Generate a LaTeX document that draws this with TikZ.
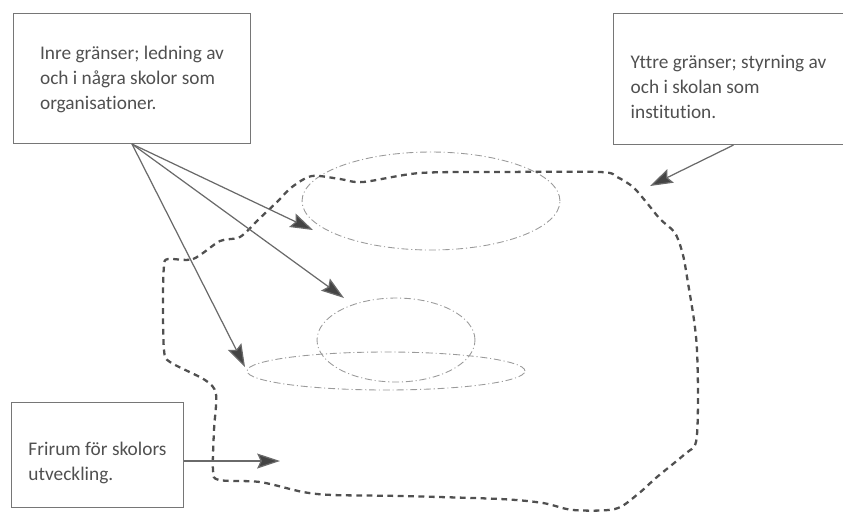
\documentclass[tikz,border=0pt]{standalone}
\usepackage{fontspec}
\setmainfont{Carlito}[Ligatures=NoCommon]
\usetikzlibrary{arrows.meta}
\definecolor{ramgra}{HTML}{767676}
\definecolor{textgra}{HTML}{505050}
\definecolor{pilgra}{HTML}{6A6A6A}
\definecolor{spetsgra}{HTML}{444444}
\definecolor{gransgra}{HTML}{505050}
\definecolor{ellipsgra}{HTML}{9A9A9A}

\begin{document}
\begin{tikzpicture}[x=0.02cm, y=-0.02cm,
	ruta/.style={draw=ramgra, line width=0.6pt, text=textgra, align=flush left, anchor=north west,
		inner ysep=0pt, inner xsep=0.1cm, font=\fontsize{11}{14.2}\selectfont},
	pil/.style={draw=pilgra, line width=0.7pt, -{Stealth[length=13pt,width=8.5pt,inset=2pt,fill=spetsgra]}},
	grans/.style={draw=gransgra, line width=1.3pt, dash pattern=on 3.3pt off 2.6pt},
	ellips/.style={draw=ellipsgra, line width=0.5pt, dash pattern=on 4pt off 1.6pt on 0.6pt off 1.6pt}]
	\useasboundingbox (0,0) rectangle (843,512);
	% boxes
	\node[ruta, minimum width=4.74cm, text height=1.92cm, text depth=0.68cm] (inre) at (13,13)
		{Inre gränser; ledning av\\och i några skolor som\\organisationer.};
	\node[ruta, minimum width=4.6cm, text height=2.1cm, text depth=0.52cm] (yttre) at (613,13)
		{Yttre gränser; styrning av\\och i skolan som\\institution.};
	\node[ruta, minimum width=3.44cm, text height=1.56cm, text depth=0.54cm] (frirum) at (11,402)
		{Frirum för skolors\\utveckling.};
	% inner borders
	\begin{scope}[ellips]
		\draw (431,201) ellipse (2.58cm and 0.98cm);
		\draw (396,340) ellipse (1.58cm and 0.84cm);
		\draw (386,371) ellipse (2.78cm and 0.38cm);
	\end{scope}
	% outer border
	\draw[grans] plot[smooth cycle, tension=0.5] coordinates {
		(168,259) (193,259) (220,241) (240,237) (260,218) (277,202) (292,187) (312,176)
		(340,179) (363,182) (420,173) (500,172) (600,172) (617,177) (633,187) (647,203)
		(660,219) (675,233) (683,255) (688,283) (694,320) (697,350) (698,400) (696,442)
		(685,454) (657,477) (638,494) (615,509) (573,510) (543,503) (500,499) (400,496)
		(333,495) (303,492) (260,482) (219,480) (213,470) (214,430) (216,394) (205,380)
		(170,362) (164,350) (163,300) (164,266)};
	% arrow ends
	\coordinate (pil1) at (313,230);
	\coordinate (pil2) at (344,298);
	\coordinate (pil3) at (245,367);
	\coordinate (pil4) at (650,186);
	\coordinate (pil5) at (280,461);
	\draw[pil] (inre.south) -- (pil1);
	\draw[pil] (inre.south) -- (pil2);
	\draw[pil] (inre.south) -- (pil3);
	\draw[pil] ([xshift=0.1cm]yttre.south) -- (pil4);
	\draw[pil] (frirum.east |- pil5) -- (pil5);
\end{tikzpicture}
\end{document}
